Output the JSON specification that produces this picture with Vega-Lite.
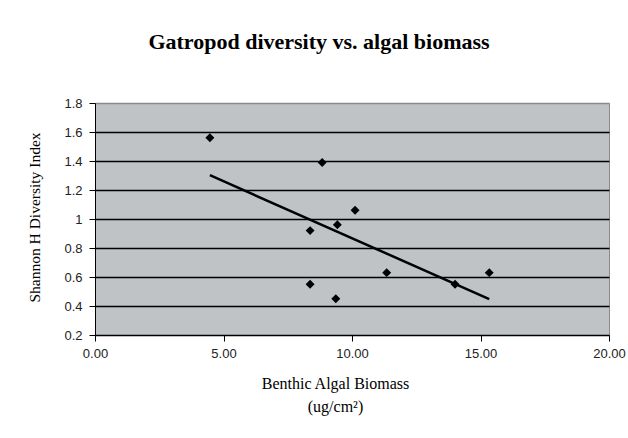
{
  "$schema": "https://vega.github.io/schema/vega-lite/v6.json",
  "width": 514,
  "height": 232,
  "autosize": {"type": "none"},
  "padding": {"left": 95, "top": 103, "right": 19, "bottom": 103},
  "background": "white",
  "title": {
    "text": "Gatropod diversity vs. algal biomass",
    "font": "Liberation Serif",
    "fontSize": 22,
    "fontWeight": "bold",
    "color": "black",
    "anchor": "middle",
    "dx": -33,
    "offset": 43
  },
  "config": {
    "view": {"fill": "#BFC3C6", "stroke": "#8a8a8a", "strokeWidth": 1}
  },
  "data": {
    "values": [
      {"biomass": 4.47, "diversity": 1.56},
      {"biomass": 8.84, "diversity": 1.39},
      {"biomass": 10.12, "diversity": 1.06},
      {"biomass": 9.43, "diversity": 0.96},
      {"biomass": 8.37, "diversity": 0.92},
      {"biomass": 11.35, "diversity": 0.63},
      {"biomass": 15.34, "diversity": 0.63},
      {"biomass": 14.01, "diversity": 0.55},
      {"biomass": 8.37, "diversity": 0.55},
      {"biomass": 9.37, "diversity": 0.45}
    ]
  },
  "encoding": {
    "x": {
      "field": "biomass",
      "type": "quantitative",
      "scale": {"domain": [0, 20], "nice": false, "zero": false},
      "axis": {
        "values": [0, 5, 10, 15, 20],
        "format": ".2f",
        "grid": false,
        "domainColor": "black",
        "tickColor": "black",
        "tickSize": 6,
        "labelFont": "Liberation Sans",
        "labelFontSize": 13,
        "labelColor": "#222222",
        "labelPadding": 6,
        "labelFlush": false,
        "title": ["Benthic Algal Biomass", "(ug/cm²)"],
        "titleFont": "Liberation Serif",
        "titleFontSize": 16,
        "titleFontWeight": "normal",
        "titleColor": "black",
        "titleLineHeight": 23,
        "titleX": 240,
        "titleY": 53,
        "titleBaseline": "alphabetic"
      }
    },
    "y": {
      "field": "diversity",
      "type": "quantitative",
      "scale": {"domain": [0.2, 1.8], "nice": false, "zero": false},
      "axis": {
        "values": [0.2, 0.4, 0.6, 0.8, 1, 1.2, 1.4, 1.6, 1.8],
        "format": ".1~f",
        "grid": true,
        "gridColor": {"condition": {"test": "datum.value > 1.79", "value": "#8a8a8a"}, "value": "black"},
        "gridWidth": 1.5,
        "gridOpacity": 1,
        "domainColor": "black",
        "tickColor": "black",
        "tickSize": 6,
        "labelFont": "Liberation Sans",
        "labelFontSize": 13,
        "labelColor": "#222222",
        "labelPadding": 7,
        "labelFlush": false,
        "title": "Shannon H Diversity Index",
        "titleFont": "Liberation Serif",
        "titleFontSize": 15.5,
        "titleFontWeight": "normal",
        "titleColor": "black",
        "titleX": -61,
        "titleY": 114,
        "titleBaseline": "middle"
      }
    }
  },
  "layer": [
    {
      "mark": {"type": "point", "shape": "diamond", "filled": true, "color": "black", "size": 80, "opacity": 1}
    },
    {
      "transform": [{"regression": "diversity", "on": "biomass"}],
      "mark": {"type": "line", "color": "black", "strokeWidth": 2.5}
    }
  ]
}
